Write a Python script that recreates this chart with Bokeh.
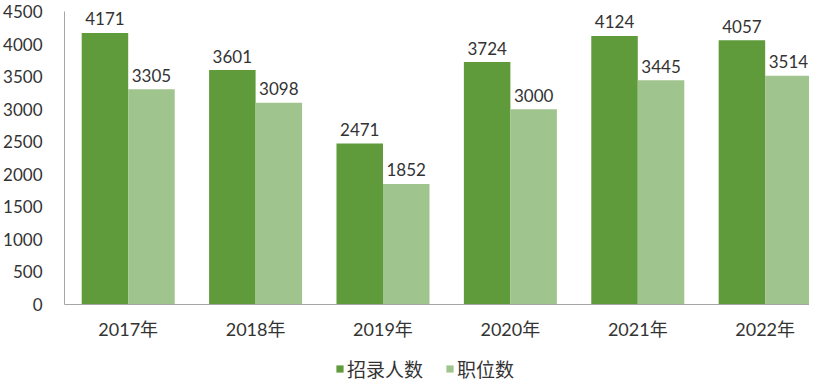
from bokeh.plotting import figure
from bokeh.models import ColumnDataSource, Range1d, Legend, LegendItem, FixedTicker
from bokeh.layouts import column
from bokeh.transform import dodge
from bokeh.core.properties import value
from bokeh.embed import file_html
from bokeh.resources import INLINE

years = ["2017年", "2018年", "2019年", "2020年", "2021年", "2022年"]
recruits = [4171, 3601, 2471, 3724, 4124, 4057]
positions = [3305, 3098, 1852, 3000, 3445, 3514]
y_ticks = [0, 500, 1000, 1500, 2000, 2500, 3000, 3500, 4000, 4500]
y_max = 4500
series_names = ["招录人数", "职位数"]

dark = "#5F9A3B"
light = "#A0C48E"
font = "Lato"
cjk = "Lato, 'Noto Sans CJK SC'"

xs = [i + 0.5 for i in range(len(years))]
src = ColumnDataSource(dict(
    x=xs, a=recruits, b=positions,
    at=[str(v) for v in recruits], bt=[str(v) for v in positions],
))

# frame extends a little above 4500 so the top value labels are not clipped
p = figure(x_range=Range1d(0, 5.848), y_range=Range1d(0, 4638),
           frame_width=745, frame_height=302, output_backend="svg", toolbar_location=None,
           min_border_left=55, min_border_right=0, min_border_top=2, min_border_bottom=40)

w = 0.365
r1 = p.vbar(x=dodge("x", -w / 2), top="a", width=w, source=src,
            fill_color=dark, line_color=None)
r2 = p.vbar(x=dodge("x", w / 2), top="b", width=w, source=src,
            fill_color=light, line_color=None)

label_gap = 215  # data units (~14 px) between bar top and label baseline
p.text(x=dodge("x", -w / 2), y=dodge("a", label_gap), text="at", source=src,
       text_align="center", text_baseline="alphabetic",
       text_font=value(font), text_font_size="17px", text_color="#333333")
p.text(x=dodge("x", w / 2), y=dodge("b", label_gap), text="bt", source=src,
       text_align="center", text_baseline="alphabetic",
       text_font=value(font), text_font_size="17px", text_color="#333333")

p.xgrid.visible = False
p.ygrid.visible = False
p.outline_line_color = None

p.yaxis.ticker = FixedTicker(ticks=y_ticks)
p.yaxis.bounds = (0, y_max)
p.yaxis.major_tick_line_color = None
p.yaxis.minor_tick_line_color = None
p.yaxis.axis_line_color = "#A6A6A6"
p.yaxis.major_label_text_font = font
p.yaxis.major_label_text_font_size = "17px"
p.yaxis.major_label_text_color = "#333333"
p.yaxis.major_label_standoff = 16

p.xaxis.ticker = FixedTicker(ticks=xs)
p.xaxis.major_label_overrides = {x: y for x, y in zip(xs, years)}
p.xaxis.major_tick_line_color = None
p.xaxis.minor_tick_line_color = None
p.xaxis.axis_line_color = "#A6A6A6"
p.xaxis.major_label_text_font = cjk
p.xaxis.major_label_text_font_size = "18px"
p.xaxis.major_label_text_color = "#333333"
p.xaxis.major_label_standoff = 7

# legend strip below the chart
q = figure(width=800, height=40, x_range=Range1d(0, 1), y_range=Range1d(0, 1),
           x_axis_location=None, y_axis_location=None,
           output_backend="svg", toolbar_location=None, min_border=0)
q.grid.visible = False
q.outline_line_color = None
l1 = q.vbar(x="x", top="a", width=w, source=src, fill_color=dark, line_color=None, visible=False)
l2 = q.vbar(x="x", top="b", width=w, source=src, fill_color=light, line_color=None, visible=False)

legend = Legend(items=[LegendItem(label=series_names[0], renderers=[l1]),
                       LegendItem(label=series_names[1], renderers=[l2])],
                orientation="horizontal", location=(271, 2),
                label_text_font="Noto Sans CJK SC", label_text_font_size="19px",
                label_text_color="#333333", glyph_width=9, glyph_height=9,
                label_standoff=3, spacing=22, border_line_color=None,
                background_fill_alpha=0, margin=0, padding=0)
q.add_layout(legend)

open("out.html", "w").write(file_html(column(p, q, spacing=0), INLINE))
